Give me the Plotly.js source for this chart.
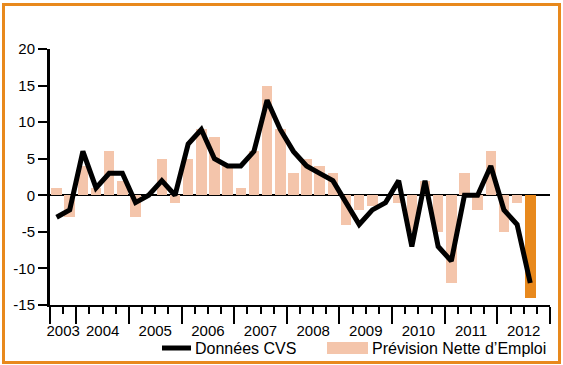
<!DOCTYPE html>
<html>
<head>
<meta charset="utf-8">
<script src="https://cdn.plot.ly/plotly-3.0.1.min.js"></script>
<style>
  html, body { margin: 0; padding: 0; background: #ffffff; }
  #wrap { position: relative; width: 563px; height: 365px; overflow: hidden; }
  #chart { position: absolute; left: 0; top: 0; width: 563px; height: 365px; }
  #frame { position: absolute; left: 2px; top: 3px; width: 559px; height: 361px;
           box-sizing: border-box; border: 3px solid #E8891D; pointer-events: none; }
</style>
</head>
<body>
<div id="wrap">
  <div id="chart"></div>
  <div id="frame"></div>
</div>
<script>
// Quarters (first one: 3rd quarter 2003, last one: 3rd quarter 2012)
const quarters = [
  "T3 2003","T4 2003",
  "T1 2004","T2 2004","T3 2004","T4 2004",
  "T1 2005","T2 2005","T3 2005","T4 2005",
  "T1 2006","T2 2006","T3 2006","T4 2006",
  "T1 2007","T2 2007","T3 2007","T4 2007",
  "T1 2008","T2 2008","T3 2008","T4 2008",
  "T1 2009","T2 2009","T3 2009","T4 2009",
  "T1 2010","T2 2010","T3 2010","T4 2010",
  "T1 2011","T2 2011","T3 2011","T4 2011",
  "T1 2012","T2 2012","T3 2012"
];
// Données CVS (line)
const donneesCVS = [
  -3, -2,
  6, 1, 3, 3,
  -1, 0, 2, 0,
  7, 9, 5, 4,
  4, 6, 13, 9,
  6, 4, 3, 2,
  -1, -4, -2, -1,
  2, -7, 2, -7,
  -9, 0, 0, 4,
  -2, -4, -12
];
// Prévision Nette d'Emploi (bars)
const prevision = [
  1, -3,
  4, 1, 6, 2,
  -3, 0, 5, -1,
  5, 9, 8, 4,
  1, 6, 15, 9,
  3, 5, 4, 3,
  -4, -2, -1.5, 0,
  -1, -5, 2, -5,
  -12, 3, -2, 6,
  -5, -1, -14
];
const years = ["2003","2004","2005","2006","2007","2008","2009","2010","2011","2012"];
const yTicks = [-15, -10, -5, 0, 5, 10, 15, 20];

// Quarter slots on the axis: 2003 has 2 slots, every other year 4 slots
const slotsPerYear = years.map((y, i) => (i === 0 ? 2 : 4));
const boundaries = [0];
slotsPerYear.forEach(n => boundaries.push(boundaries[boundaries.length - 1] + n));
const yearCenters = years.map((y, i) => (boundaries[i] + boundaries[i + 1]) / 2);
const totalSlots = boundaries[boundaries.length - 1];

const xPos = quarters.map((q, i) => i + 0.5);

const PINK = "#F4C5AB";
const ORANGE = "#E8891D";
const barColors = prevision.map((v, i) => (i === prevision.length - 1 ? ORANGE : PINK));

const traces = [
  {
    type: "bar",
    x: xPos,
    y: prevision,
    hovertext: quarters,
    textposition: "none",
    width: 0.8,
    marker: { color: barColors, line: { width: 0 } },
    name: "Prévision Nette d’Emploi",
    hoverinfo: "text+y"
  },
  {
    type: "scatter",
    mode: "lines",
    x: xPos,
    y: donneesCVS,
    hovertext: quarters,
    line: { color: "#000000", width: 5 },
    name: "Données CVS",
    hoverinfo: "text+y"
  },
  {
    type: "scatter",
    mode: "markers",
    x: [],
    y: [],
    xaxis: "x2",
    showlegend: false,
    hoverinfo: "skip"
  }
];

// Manual legend (paper coordinates relative to plot area 50..550 x 49..305)
const pxX = px => (px - 50) / 500;
const pxY = py => (305 - py) / 256;

const layout = {
  width: 563,
  height: 365,
  margin: { l: 50, r: 13, t: 49, b: 60, pad: 0 },
  paper_bgcolor: "#ffffff",
  plot_bgcolor: "#ffffff",
  font: { family: "Liberation Sans, Arial, Helvetica, sans-serif", size: 15, color: "#000000" },
  showlegend: false,
  bargap: 0,
  xaxis: {
    range: [0, totalSlots],
    tickmode: "array",
    tickvals: boundaries,
    showticklabels: false,
    ticks: "outside",
    ticklen: 17,
    tickwidth: 2,
    tickcolor: "#000000",
    showline: true,
    linecolor: "#000000",
    linewidth: 2,
    showgrid: false,
    zeroline: false,
    fixedrange: true,
    minor: {
      tickmode: "linear",
      tick0: 0,
      dtick: 1,
      ticks: "outside",
      ticklen: 7,
      tickwidth: 2,
      tickcolor: "#000000",
      showgrid: false
    }
  },
  xaxis2: {
    overlaying: "x",
    anchor: "y",
    side: "bottom",
    range: [0, totalSlots],
    tickmode: "array",
    tickvals: yearCenters,
    ticktext: years,
    ticks: "outside",
    ticklen: 12,
    tickcolor: "rgba(0,0,0,0)",
    showline: false,
    showgrid: false,
    zeroline: false,
    fixedrange: true,
    tickfont: { size: 15 }
  },
  yaxis: {
    range: [-15, 20],
    tickmode: "array",
    tickvals: yTicks,
    ticktext: yTicks.map(String),
    ticks: "outside",
    ticklen: 9,
    tickwidth: 2,
    tickcolor: "#000000",
    showline: true,
    linecolor: "#000000",
    linewidth: 3,
    showgrid: false,
    zeroline: true,
    zerolinecolor: "#000000",
    zerolinewidth: 2,
    fixedrange: true,
    tickfont: { size: 15 }
  },
  shapes: [
    { type: "line", xref: "paper", yref: "paper",
      x0: pxX(162), x1: pxX(191), y0: pxY(348), y1: pxY(348),
      line: { color: "#000000", width: 5 } },
    { type: "rect", xref: "paper", yref: "paper",
      x0: pxX(327), x1: pxX(368), y0: pxY(342), y1: pxY(354),
      fillcolor: PINK, line: { width: 0 } }
  ],
  annotations: [
    { xref: "paper", yref: "paper", x: pxX(193), y: pxY(348), xanchor: "left", yanchor: "middle",
      text: "Données CVS", showarrow: false, font: { size: 16 } },
    { xref: "paper", yref: "paper", x: pxX(370), y: pxY(348), xanchor: "left", yanchor: "middle",
      text: "Prévision Nette d’Emploi", showarrow: false, font: { size: 16 } }
  ]
};

Plotly.newPlot("chart", traces, layout, { displayModeBar: false, staticPlot: true });
</script>
</body>
</html>
